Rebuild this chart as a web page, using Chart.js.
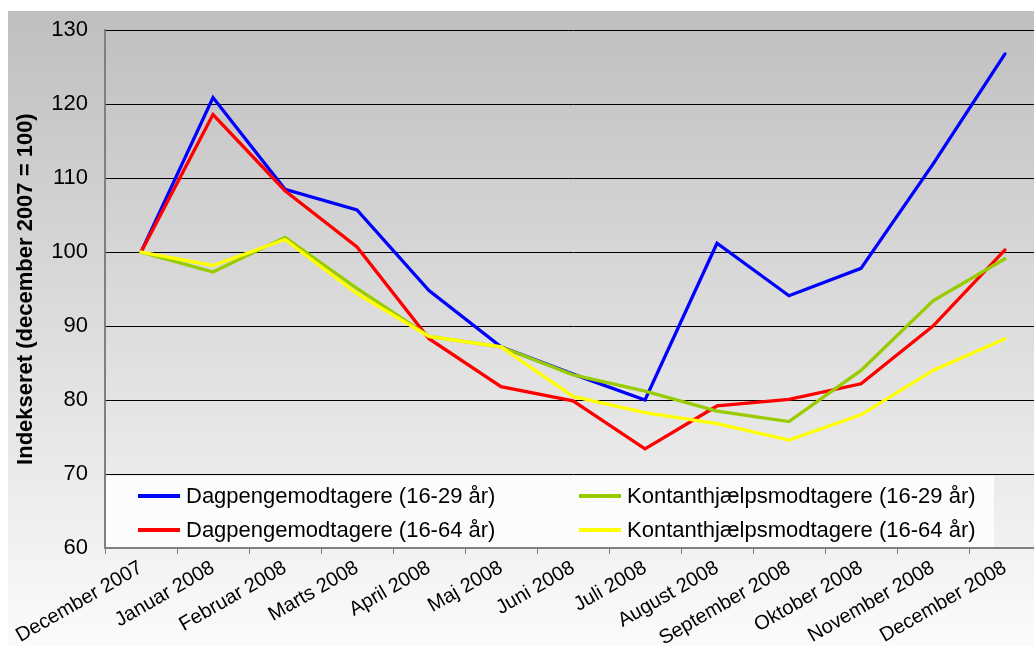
<!DOCTYPE html>
<html>
<head>
<meta charset="utf-8">
<script src="https://cdn.jsdelivr.net/npm/chart.js@4/dist/chart.umd.min.js"></script>
<style>
  html, body { margin: 0; padding: 0; background: #fff; overflow: hidden; }
  #wrap { width: 1050px; height: 646px; }
</style>
</head>
<body>
<div id="wrap"><canvas id="chart" width="1050" height="646"></canvas></div>
<script>
const labels = ['December 2007', 'Januar 2008', 'Februar 2008', 'Marts 2008', 'April 2008', 'Maj 2008',
    'Juni 2008', 'Juli 2008', 'August 2008', 'September 2008', 'Oktober 2008', 'November 2008', 'December 2008'];

const dagpenge1629 = [100, 120.9, 108.5, 105.7, 94.8, 87.2, 83.5, 80.0, 101.2, 94.1, 97.8, 111.9, 126.8];
const dagpenge1664 = [100, 118.6, 108.3, 100.7, 88.3, 81.8, 79.9, 73.4, 79.2, 80.1, 82.2, 90.0, 100.3];
const kontant1629 = [100, 97.3, 102.0, 95.1, 88.6, 87.2, 83.4, 81.2, 78.5, 77.1, 84.0, 93.4, 99.1];
const kontant1664 = [100, 98.2, 101.7, 94.4, 88.6, 87.2, 80.5, 78.3, 76.8, 74.6, 78.0, 84.0, 88.3];

const yTitle = 'Indekseret (december 2007 = 100)';
const fontFamily = '"Liberation Sans", Arial, sans-serif';

// grey gradient behind the whole chart
const background = {
    id: 'background',
    beforeDraw(chart) {
        const ctx = chart.ctx;
        ctx.save();
        ctx.fillStyle = '#ffffff';
        ctx.fillRect(0, 0, chart.width, chart.height);
        const g = ctx.createLinearGradient(0, 11, 0, chart.height);
        g.addColorStop(0, '#bfbfbf');
        g.addColorStop(1, '#fbfbfb');
        ctx.fillStyle = g;
        ctx.fillRect(8, 11, chart.width - 8, chart.height - 11);
        ctx.restore();
    }
};

// legend box drawn inside the plot, two columns
const boxLegend = {
    id: 'boxLegend',
    afterDraw(chart) {
        const ctx = chart.ctx;
        const area = chart.chartArea;
        const top = area.bottom - 72;
        ctx.save();
        ctx.fillStyle = '#fcfcfc';
        ctx.fillRect(area.left + 1, top, 888, 71);
        ctx.font = '22px ' + fontFamily;
        ctx.textBaseline = 'middle';
        ctx.fillStyle = '#000';
        const cols = [area.left + 33, area.left + 474];
        const rows = [top + 20, top + 54];
        // column-major: blue, red | green, yellow
        chart.data.datasets.forEach((ds, k) => {
            const x = cols[Math.floor(k / 2)];
            const y = rows[k % 2];
            ctx.strokeStyle = ds.borderColor;
            ctx.lineWidth = 4;
            ctx.beginPath();
            ctx.moveTo(x, y);
            ctx.lineTo(x + 42, y);
            ctx.stroke();
            ctx.fillText(ds.label, x + 48, y + 1);
        });
        ctx.restore();
    }
};

new Chart(document.getElementById('chart'), {
    type: 'line',
    data: {
        labels: labels,
        datasets: [
            { label: 'Dagpengemodtagere (16-29 år)', data: dagpenge1629, borderColor: '#0000ff', order: 4 },
            { label: 'Dagpengemodtagere (16-64 år)', data: dagpenge1664, borderColor: '#ff0000', order: 3 },
            { label: 'Kontanthjælpsmodtagere (16-29 år)', data: kontant1629, borderColor: '#99cc00', order: 2 },
            { label: 'Kontanthjælpsmodtagere (16-64 år)', data: kontant1664, borderColor: '#ffff00', order: 1 }
        ]
    },
    options: {
        responsive: false,
        animation: false,
        layout: { padding: { top: 30, left: 8, right: 9, bottom: 0 } },
        elements: {
            line: { borderWidth: 3.3, tension: 0, borderCapStyle: 'round', borderJoinStyle: 'miter' },
            point: { radius: 0 }
        },
        plugins: {
            legend: { display: false },
            tooltip: { enabled: false }
        },
        scales: {
            x: {
                offset: true,
                grid: { offset: true, drawOnChartArea: false, drawTicks: true, tickLength: 6, color: '#808080' },
                border: { color: '#808080', width: 2 },
                ticks: {
                    autoSkip: false, minRotation: 30, maxRotation: 30, padding: 2,
                    color: '#000', font: { family: fontFamily, size: 20 }
                },
                afterFit(scale) { scale.height = 98; }
            },
            y: {
                min: 60, max: 130,
                ticks: { stepSize: 10, padding: 17, color: '#000', font: { family: fontFamily, size: 22 } },
                grid: { color: '#000', lineWidth: 1, drawTicks: false },
                border: { color: '#808080', width: 2 },
                title: {
                    display: true, text: yTitle, color: '#000',
                    font: { family: fontFamily, size: 22, weight: 'bold' },
                    padding: { top: 5, bottom: 0 }
                },
                afterFit(scale) { scale.width = 97; }
            }
        }
    },
    plugins: [background, boxLegend]
});
</script>
</body>
</html>
